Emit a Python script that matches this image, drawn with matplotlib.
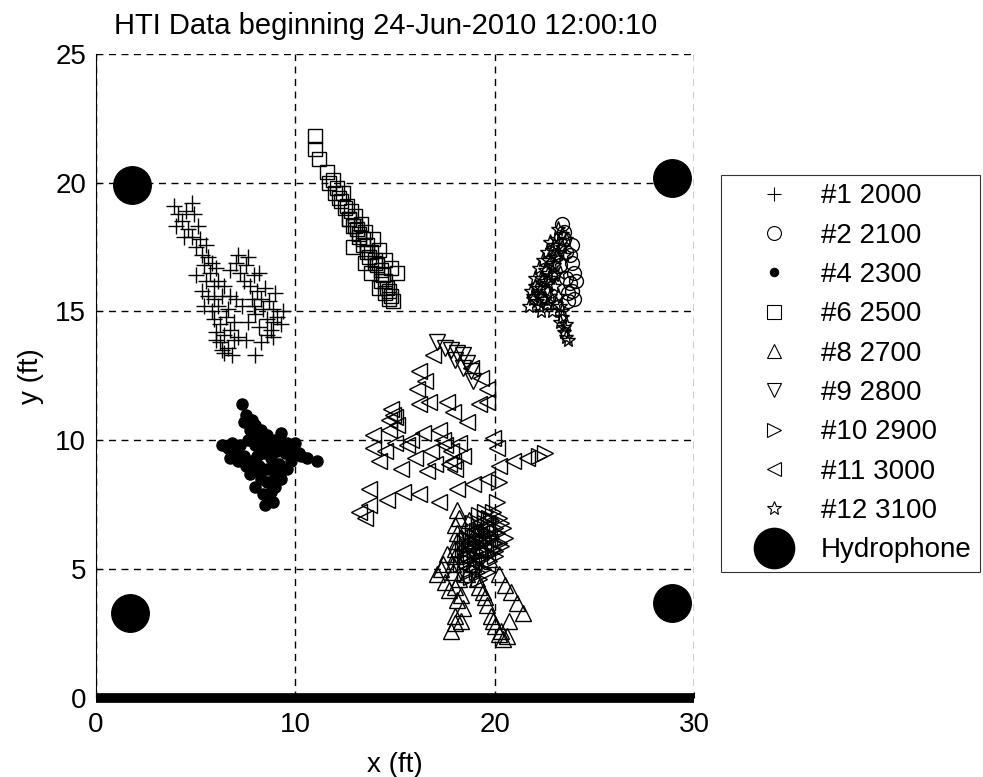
import matplotlib.pyplot as plt
from matplotlib.lines import Line2D

plt.rcParams['font.family'] = ['Liberation Sans', 'DejaVu Sans']

# track positions (ft)
x1 = [3.9, 4.1, 4.3, 4.0, 4.5, 4.8, 4.9, 4.6, 4.8, 5.1, 5.2, 5.0, 5.3, 5.5, 5.6, 5.4, 5.8,
      5.7, 6.0, 6.1, 5.9, 5.5, 5.3, 5.6, 5.9, 5.4, 5.8, 6.1, 6.3, 5.9, 6.2, 6.5, 6.0, 6.4,
      6.7, 6.2, 6.6, 6.9, 6.4, 6.8, 7.1, 6.9, 6.6, 6.4, 6.7, 6.7, 7.0, 7.2, 7.5, 7.4, 7.7,
      7.9, 8.1, 7.8, 8.3, 8.5, 8.7, 8.4, 8.9, 9.1, 9.4, 9.3, 8.9, 8.6, 8.2, 8.6, 8.9, 8.3,
      8.0, 7.6, 7.3, 7.0, 7.6, 7.1, 8.2, 9.0, 7.5, 8.0, 4.4, 5.0, 6.3, 6.0, 7.9, 8.8]
y1 = [19.1, 18.8, 18.5, 18.3, 18.9, 19.2, 18.8, 18.2, 17.9, 18.3, 17.8, 17.5, 17.2, 17.6,
      17.1, 16.8, 16.9, 16.5, 16.7, 16.2, 16.0, 16.2, 15.8, 15.6, 15.5, 15.2, 15.0, 15.2,
      15.6, 14.7, 14.5, 14.8, 14.2, 14.1, 14.3, 13.8, 13.6, 13.9, 13.4, 13.3, 14.0, 14.6,
      15.1, 16.0, 15.6, 16.6, 16.9, 16.5, 16.8, 16.2, 16.0, 16.4, 15.8, 15.5, 15.5, 15.9,
      15.4, 15.1, 15.1, 14.8, 15.0, 14.5, 14.6, 14.7, 14.4, 14.1, 14.0, 13.8, 13.3, 14.6,
      15.2, 15.5, 17.1, 17.2, 16.5, 15.7, 13.9, 14.9, 17.9, 16.4, 13.5, 13.9, 15.2, 14.3]

x2 = [23.4, 23.5, 23.6, 23.9, 24.0, 23.8, 23.9, 24.0, 23.7, 23.6, 23.8, 23.3, 23.5, 24.1,
      23.9, 23.7]
y2 = [18.4, 17.8, 17.3, 16.9, 16.5, 16.1, 15.8, 15.5, 15.7, 16.3, 17.2, 16.8, 18.1, 16.2,
      17.6, 15.4]

x4 = [7.3, 7.5, 7.8, 8.0, 8.3, 8.6, 9.0, 9.4, 9.8, 10.2, 10.6, 11.1, 10.0, 9.5, 9.2, 9.6,
      9.3, 9.0, 8.7, 8.5, 8.9, 9.0, 8.6, 8.2, 7.8, 7.4, 7.0, 6.6, 6.3, 6.8, 7.2, 7.6, 8.0,
      8.4, 8.8, 8.3, 8.0, 7.7, 8.5, 9.3, 9.6, 8.1, 8.9, 7.4, 7.7, 8.1, 8.4, 8.7, 9.1, 9.8,
      10.3, 8.8, 8.4, 8.2, 7.9, 7.5, 7.1, 6.7, 6.9, 8.6, 8.9, 9.2, 8.3, 8.0]
y4 = [11.4, 11.0, 10.8, 10.6, 10.4, 10.2, 10.0, 9.8, 9.6, 9.5, 9.3, 9.2, 9.9, 9.5, 9.1,
      8.9, 8.5, 8.2, 7.8, 7.5, 7.6, 8.6, 8.9, 9.0, 9.2, 9.4, 9.5, 9.7, 9.8, 9.9, 9.8, 10.0,
      9.8, 9.5, 9.3, 8.5, 8.2, 8.7, 10.0, 10.3, 9.9, 9.4, 9.0, 10.7, 10.4, 10.1, 9.9, 9.7,
      9.6, 9.2, 9.4, 8.0, 7.9, 8.8, 8.9, 9.0, 9.2, 9.3, 9.6, 8.4, 8.3, 8.8, 9.7, 10.4]

x6 = [11.0, 11.0, 11.2, 11.6, 11.9, 12.1, 12.4, 12.3, 12.6, 12.8, 13.0, 12.9, 13.3, 13.5,
      13.2, 13.6, 13.8, 14.0, 14.2, 14.5, 14.8, 15.1, 14.3, 14.5, 14.6, 14.8, 14.9, 14.7,
      14.4, 14.0, 13.7, 13.4, 13.1, 12.7, 11.7, 12.0, 12.2, 12.5, 12.7, 13.0, 13.2, 13.4,
      13.6, 13.9, 14.1, 14.3, 14.5, 14.7, 13.8, 14.2, 13.5, 12.9]
y6 = [21.8, 21.3, 20.9, 20.4, 20.1, 19.8, 19.6, 19.3, 19.1, 18.9, 18.7, 18.3, 18.4, 18.1,
      17.9, 17.6, 17.3, 17.0, 17.4, 17.0, 16.7, 16.5, 16.6, 16.2, 15.9, 15.6, 15.4, 15.8,
      16.4, 16.9, 17.1, 17.8, 18.2, 18.6, 20.0, 19.6, 19.4, 19.0, 18.6, 18.3, 18.0, 17.6,
      17.3, 17.8, 16.8, 16.2, 15.7, 15.5, 16.5, 15.9, 16.9, 17.5]

x8 = [18.1, 18.0, 18.1, 18.0, 17.9, 18.0, 18.1, 18.0, 17.8, 17.5, 17.1, 17.4, 18.3, 18.6,
      18.9, 19.1, 19.4, 19.6, 19.8, 20.0, 20.2, 20.4, 20.6, 20.2, 20.5, 20.8, 21.1, 21.4,
      19.0, 18.7, 19.3, 19.7, 18.4, 18.2, 18.1, 18.0, 17.9, 18.2, 17.7, 17.3, 18.5, 19.2,
      19.5, 19.9, 20.3, 20.7, 18.8, 18.3, 17.6, 18.0]
y8 = [7.3, 6.7, 6.1, 5.5, 4.9, 4.3, 3.8, 3.2, 2.6, 4.5, 4.8, 5.2, 4.0, 4.8, 5.2, 4.6, 4.1,
      3.6, 3.2, 2.8, 2.5, 2.3, 2.4, 4.8, 4.4, 4.1, 3.7, 3.3, 6.4, 6.9, 5.8, 5.4, 3.5, 7.0,
      6.4, 5.8, 5.2, 4.6, 4.2, 5.0, 5.6, 4.3, 3.9, 3.0, 2.6, 3.0, 6.1, 3.0, 5.6, 2.9]

x9 = [17.1, 17.5, 17.8, 18.1, 18.4, 18.6, 18.8, 18.9, 18.4, 18.0]
y9 = [13.8, 13.6, 13.5, 13.4, 13.3, 13.0, 12.7, 12.3, 12.8, 13.1]

x10 = [18.5, 18.7, 18.9, 19.1, 19.3, 19.5, 19.7, 19.9, 20.2, 20.4, 20.5, 20.2, 19.9, 19.6,
       19.3, 19.0, 18.8, 18.6, 18.4, 18.6, 18.9, 19.2, 19.0, 19.4, 19.8, 20.0, 19.5, 19.2,
       20.2, 20.1, 22.2, 22.5, 18.3, 18.5, 18.8, 19.1, 19.4, 19.7, 20.0, 20.3, 19.6, 19.3,
       19.0, 18.7, 19.1, 19.4, 19.8, 18.9, 19.2, 19.6, 18.6, 18.8, 19.0, 19.3, 19.6, 19.9,
       20.1, 20.3, 19.7, 19.4, 19.1, 18.8, 18.5, 19.5, 19.8, 20.0]
y10 = [5.5, 5.8, 6.0, 6.2, 6.5, 6.8, 7.0, 7.2, 7.0, 6.6, 6.2, 6.0, 5.8, 5.6, 5.4, 5.2, 5.0,
       5.3, 5.8, 6.2, 6.5, 6.8, 5.7, 6.0, 6.3, 6.6, 7.2, 7.1, 8.4, 7.6, 9.4, 9.5, 5.2, 4.8,
       4.7, 4.9, 5.0, 5.3, 5.5, 5.9, 6.1, 5.8, 5.5, 5.6, 6.5, 6.3, 6.9, 6.8, 4.6, 4.9, 5.9,
       6.1, 6.3, 6.1, 6.4, 6.0, 6.4, 6.8, 6.6, 5.7, 5.4, 5.5, 6.0, 7.0, 6.2, 5.7]

x11 = [16.9, 16.2, 16.1, 16.2, 14.9, 14.7, 13.9, 13.9, 14.2, 16.7, 17.6, 17.9, 17.2, 16.4,
       18.6, 19.2, 19.6, 19.6, 19.9, 20.2, 20.9, 21.6, 19.6, 18.9, 18.1, 17.2, 16.2, 15.4,
       14.6, 13.7, 13.2, 13.7, 14.8, 15.0, 15.1, 14.7, 17.5, 17.8, 18.2, 18.4, 17.9, 16.0,
       15.6, 15.3, 16.6, 17.0, 18.8, 19.3, 14.5, 20.1, 15.0, 16.5, 13.5, 17.4, 17.7, 18.0,
       16.8, 15.8]
y11 = [13.3, 12.7, 12.0, 11.4, 11.0, 10.4, 10.2, 9.7, 9.2, 11.5, 11.5, 11.1, 10.4, 10.3,
       10.7, 11.4, 12.0, 11.5, 10.1, 9.0, 9.2, 9.3, 8.5, 8.3, 8.1, 7.6, 7.9, 8.0, 7.7, 7.5,
       7.2, 8.1, 11.2, 10.9, 10.6, 10.8, 9.8, 9.6, 9.9, 9.4, 9.2, 9.3, 9.8, 8.9, 8.8, 9.1,
       12.8, 12.4, 9.6, 9.7, 9.9, 12.3, 7.0, 10.0, 9.1, 8.9, 9.6, 10.0]

x12 = [21.7, 21.9, 22.1, 22.3, 22.5, 22.7, 22.9, 23.1, 23.4, 23.2, 23.0, 22.8, 22.6, 22.4,
       22.2, 23.0, 23.2, 23.3, 23.4, 23.5, 23.6, 23.7, 23.3, 23.5, 23.6, 22.0, 22.9, 21.8,
       22.0, 22.2, 22.4, 22.6, 22.8, 23.0, 23.2, 23.4, 22.7, 22.5, 22.3, 23.1, 23.3, 23.5,
       23.6, 23.4, 23.0, 21.9, 22.1, 22.3, 22.5, 22.7, 22.9, 23.1, 22.6, 22.8]
y12 = [15.2, 15.6, 15.9, 16.3, 16.6, 17.0, 17.4, 17.8, 18.0, 17.3, 16.8, 16.3, 15.8, 15.5,
       15.2, 16.0, 15.6, 15.2, 14.8, 14.4, 14.0, 13.9, 16.5, 17.2, 17.8, 16.0, 15.0, 15.8,
       16.3, 16.7, 17.0, 17.3, 17.7, 17.6, 18.2, 17.5, 16.1, 15.5, 15.0, 15.3, 14.6, 14.2,
       14.5, 15.0, 16.4, 15.5, 15.4, 15.9, 16.2, 16.5, 16.9, 17.1, 15.3, 15.6]

hyd_x = [1.8, 28.9, 1.7, 28.9]
hyd_y = [19.9, 20.2, 3.3, 3.7]

tracks = [
    ('#1 2000', x1, y1, '+', 11, 'none'),
    ('#2 2100', x2, y2, 'o', 10, 'none'),
    ('#4 2300', x4, y4, 'o', 8, 'black'),
    ('#6 2500', x6, y6, 's', 10, 'none'),
    ('#8 2700', x8, y8, '^', 11, 'none'),
    ('#9 2800', x9, y9, 'v', 11, 'none'),
    ('#10 2900', x10, y10, '>', 11, 'none'),
    ('#11 3000', x11, y11, '<', 11, 'none'),
    ('#12 3100', x12, y12, '*', 11, 'none'),
]
legend_sizes = [10, 10, 6, 10, 10, 10, 10, 10, 10]

fig = plt.figure(figsize=(9.83, 7.77), dpi=100)
ax = fig.add_axes([0.0977, 0.1017, 0.6083, 0.829])

handles = []
for (label, xs, ys, mk, ms, fc), lms in zip(tracks, legend_sizes):
    ax.plot(xs, ys, linestyle='none', marker=mk, markersize=ms,
            markerfacecolor=fc, markeredgecolor='black', markeredgewidth=1, clip_on=False)
    handles.append(Line2D([], [], linestyle='none', marker=mk, markersize=lms,
                          markerfacecolor=fc, markeredgecolor='black', markeredgewidth=0.8,
                          label=label))

ax.plot(hyd_x, hyd_y, linestyle='none', marker='o', markersize=27, color='black', clip_on=False)
handles.append(Line2D([], [], linestyle='none', marker='o', markersize=29, color='black',
                      label='Hydrophone'))

ax.set_xlim(0, 30)
ax.set_ylim(0, 25)
ax.set_xticks([0, 10, 20, 30])
ax.set_yticks([0, 5, 10, 15, 20, 25])
ax.tick_params(direction='in', length=4, labelsize=20)
ax.tick_params(axis='y', pad=7)
ax.tick_params(axis='x', pad=10)
ax.grid(True, color='black', linestyle=(0, (5, 4)), linewidth=1)
ax.spines['top'].set_visible(False)
ax.spines['right'].set_visible(False)
ax.spines['left'].set_linewidth(0.8)
ax.spines['bottom'].set_linewidth(7)
ax.spines['bottom'].set_capstyle('butt')

ax.set_xlabel('x (ft)', fontsize=20, labelpad=10)
ax.set_ylabel('y (ft)', fontsize=20, labelpad=8)
ax.set_title('HTI Data beginning 24-Jun-2010 12:00:10', fontsize=21, pad=14, x=0.485)

leg = fig.legend(handles=handles, loc='upper left', bbox_to_anchor=(0.7335, 0.7748),
                 fontsize=20, frameon=True, fancybox=False, edgecolor='black',
                 handletextpad=0.1, borderpad=0.3, labelspacing=0.48, handlelength=3.2,
                 borderaxespad=0)
leg.get_frame().set_linewidth(0.8)

fig.savefig('out.png', dpi=100)
